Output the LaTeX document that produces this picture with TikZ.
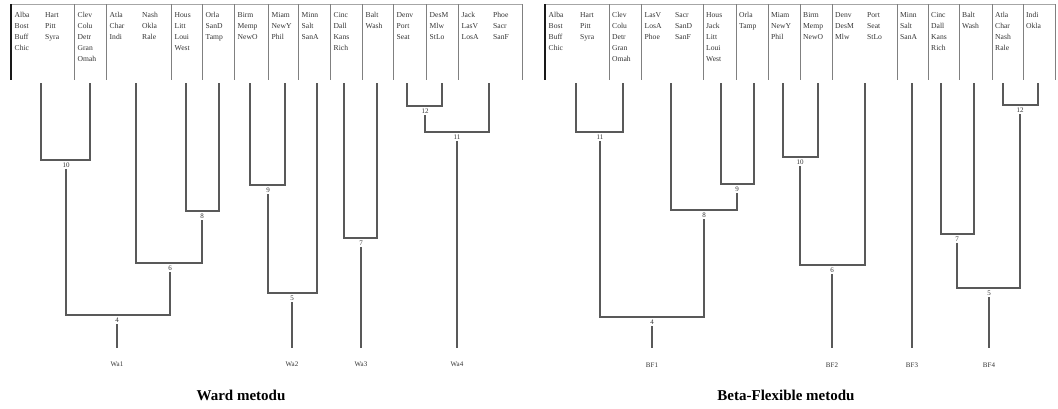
\documentclass[tikz,border=0pt]{standalone}
\usepackage{fontspec}
\setmainfont{Liberation Serif}
\begin{document}
\begin{tikzpicture}[x=1pt,y=1pt,
  every node/.style={inner sep=0pt, text=black!80},
  cell/.style={anchor=north west, align=left, font=\fontsize{7.6}{11}\selectfont},
  num/.style={anchor=north, inner sep=1.5pt, font=\fontsize{7}{8}\selectfont},
  grp/.style={font=\fontsize{7}{8}\selectfont},
  ttl/.style={font=\fontsize{15}{17}\selectfont\bfseries, text=black},
  divl/.style={draw=black!50, line width=0.9pt},
  topl/.style={draw=black!35, line width=1pt},
  edgel/.style={draw=black!90, line width=1.3pt},
  tree/.style={draw=black!65, line width=1.4pt},
]
\useasboundingbox (0,0) rectangle (1058,-408);

% ---------- frames ----------
\draw[topl] (11,-4) -- (522,-4);
\draw[topl] (545,-4) -- (1055,-4);
\foreach \x in {74,106,171,202,234,268,298,330,362,393,426,458,522}
  \draw[divl] (\x,-4) -- (\x,-80);
\foreach \x in {609,641,703,736,768,800,832,897,928,959,992,1023,1055}
  \draw[divl] (\x,-4) -- (\x,-80);
\draw[edgel] (11,-4) -- (11,-80);
\draw[edgel] (545,-4) -- (545,-80);

% ---------- left cells ----------
\node[cell] (la1) at (14.5,-12.5) {Alba\\Bost\\Buff\\Chic};
\node[cell] (la1b) at (45,-12.5) {Hart\\Pitt\\Syra};
\node[cell] (la2) at (77.5,-12.5) {Clev\\Colu\\Detr\\Gran\\Omah};
\node[cell] (la3) at (109.5,-12.5) {Atla\\Char\\Indi};
\node[cell] (la3b) at (142,-12.5) {Nash\\Okla\\Rale};
\node[cell] (la4) at (174.5,-12.5) {Hous\\Litt\\Loui\\West};
\node[cell] (la5) at (205.5,-12.5) {Orla\\SanD\\Tamp};
\node[cell] (la6) at (237.5,-12.5) {Birm\\Memp\\NewO};
\node[cell] (la7) at (271.5,-12.5) {Miam\\NewY\\Phil};
\node[cell] (la8) at (301.5,-12.5) {Minn\\Salt\\SanA};
\node[cell] (la9) at (333.5,-12.5) {Cinc\\Dall\\Kans\\Rich};
\node[cell] (la10) at (365.5,-12.5) {Balt\\Wash};
\node[cell] (la11) at (396.5,-12.5) {Denv\\Port\\Seat};
\node[cell] (la12) at (429.5,-12.5) {DesM\\Mlw\\StLo};
\node[cell] (la13) at (461.5,-12.5) {Jack\\LasV\\LosA};
\node[cell] (la13b) at (493,-12.5) {Phoe\\Sacr\\SanF};

% ---------- right cells ----------
\node[cell] (lb1) at (548.5,-12.5) {Alba\\Bost\\Buff\\Chic};
\node[cell] (lb1b) at (580,-12.5) {Hart\\Pitt\\Syra};
\node[cell] (lb2) at (612,-12.5) {Clev\\Colu\\Detr\\Gran\\Omah};
\node[cell] (lb3) at (644.5,-12.5) {LasV\\LosA\\Phoe};
\node[cell] (lb3b) at (675,-12.5) {Sacr\\SanD\\SanF};
\node[cell] (lb4) at (706,-12.5) {Hous\\Jack\\Litt\\Loui\\West};
\node[cell] (lb5) at (739,-12.5) {Orla\\Tamp};
\node[cell] (lb6) at (771,-12.5) {Miam\\NewY\\Phil};
\node[cell] (lb7) at (803,-12.5) {Birm\\Memp\\NewO};
\node[cell] (lb8) at (835,-12.5) {Denv\\DesM\\Mlw};
\node[cell] (lb8b) at (867,-12.5) {Port\\Seat\\StLo};
\node[cell] (lb9) at (900,-12.5) {Minn\\Salt\\SanA};
\node[cell] (lb10) at (931,-12.5) {Cinc\\Dall\\Kans\\Rich};
\node[cell] (lb11) at (962,-12.5) {Balt\\Wash};
\node[cell] (lb12) at (995,-12.5) {Atla\\Char\\Nash\\Rale};
\node[cell] (lb13) at (1026,-12.5) {Indi\\Okla};

% ---------- leaf stem tops ----------
\foreach \n/\x in {1/41,2/90,3/136,4/186,5/219,6/250,7/285,8/317,9/344,10/377,11/407,12/442,13/489}
  \coordinate (a\n) at (\x,-83);
\foreach \n/\x in {1/576,2/623,3/671,4/721,5/754,6/783,7/818,8/865,9/912,10/941,11/974,12/1003,13/1038}
  \coordinate (b\n) at (\x,-83);

% ---------- left dendrogram (Ward) ----------
\coordinate (JA10) at (66,-160);   \node[num] (A10) at (66,-161) {10};
\coordinate (JA8) at (202,-211);   \node[num] (A8) at (202,-212) {8};
\coordinate (JA6) at (170,-263);   \node[num] (A6) at (170,-264) {6};
\coordinate (JA4) at (117,-315);   \node[num] (A4) at (117,-316) {4};
\coordinate (JA9) at (268,-185);   \node[num] (A9) at (268,-186) {9};
\coordinate (JA5) at (292,-293);   \node[num] (A5) at (292,-294) {5};
\coordinate (JA7) at (361,-238);   \node[num] (A7) at (361,-239) {7};
\coordinate (JA12) at (425,-106);  \node[num] (A12) at (425,-107) {12};
\coordinate (JA11) at (457,-132);  \node[num] (A11) at (457,-133) {11};

\draw[tree] (a1) |- (JA10) -| (a2);
\draw[tree] (a4) |- (JA8) -| (a5);
\draw[tree] (a3) |- (JA6) -| (A8.south);
\draw[tree] (A10.south) |- (JA4) -| (A6.south);
\draw[tree] (a6) |- (JA9) -| (a7);
\draw[tree] (A9.south) |- (JA5) -| (a8);
\draw[tree] (a9) |- (JA7) -| (a10);
\draw[tree] (a11) |- (JA12) -| (a12);
\draw[tree] (A12.south) |- (JA11) -| (a13);

\coordinate (eA1) at (117,-348);
\coordinate (eA2) at (292,-348);
\coordinate (eA3) at (361,-348);
\coordinate (eA4) at (457,-348);
\draw[tree] (A4.south) -- (eA1);
\draw[tree] (A5.south) -- (eA2);
\draw[tree] (A7.south) -- (eA3);
\draw[tree] (A11.south) -- (eA4);
\node[grp] (Wa1) at (117,-364) {Wa1};
\node[grp] (Wa2) at (292,-364) {Wa2};
\node[grp] (Wa3) at (361,-364) {Wa3};
\node[grp] (Wa4) at (457,-364) {Wa4};

% ---------- right dendrogram (Beta-Flexible) ----------
\coordinate (JB11) at (600,-132);  \node[num] (B11) at (600,-133) {11};
\coordinate (JB9) at (737,-184);   \node[num] (B9) at (737,-185) {9};
\coordinate (JB8) at (704,-210);   \node[num] (B8) at (704,-211) {8};
\coordinate (JB4) at (652,-317);   \node[num] (B4) at (652,-318) {4};
\coordinate (JB10) at (800,-157);  \node[num] (B10) at (800,-158) {10};
\coordinate (JB6) at (832,-265);   \node[num] (B6) at (832,-266) {6};
\coordinate (JB7) at (957,-234);   \node[num] (B7) at (957,-235) {7};
\coordinate (JB12) at (1020,-105); \node[num] (B12) at (1020,-106) {12};
\coordinate (JB5) at (989,-288);   \node[num] (B5) at (989,-289) {5};

\draw[tree] (b1) |- (JB11) -| (b2);
\draw[tree] (b4) |- (JB9) -| (b5);
\draw[tree] (b3) |- (JB8) -| (B9.south);
\draw[tree] (B11.south) |- (JB4) -| (B8.south);
\draw[tree] (b6) |- (JB10) -| (b7);
\draw[tree] (B10.south) |- (JB6) -| (b8);
\draw[tree] (b10) |- (JB7) -| (b11);
\draw[tree] (b12) |- (JB12) -| (b13);
\draw[tree] (B7.south) |- (JB5) -| (B12.south);

\coordinate (eB1) at (652,-348);
\coordinate (eB2) at (832,-348);
\coordinate (eB3) at (912,-348);
\coordinate (eB4) at (989,-348);
\draw[tree] (B4.south) -- (eB1);
\draw[tree] (B6.south) -- (eB2);
\draw[tree] (b9) -- (eB3);
\draw[tree] (B5.south) -- (eB4);
\node[grp] (BF1) at (652,-365) {BF1};
\node[grp] (BF2) at (832,-365) {BF2};
\node[grp] (BF3) at (912,-365) {BF3};
\node[grp] (BF4) at (989,-365) {BF4};

% ---------- titles ----------
\node[ttl] (t1) at (241,-395) {Ward metodu};
\node[ttl] (t2) at (786,-395) {Beta-Flexible metodu};
\end{tikzpicture}
\end{document}
